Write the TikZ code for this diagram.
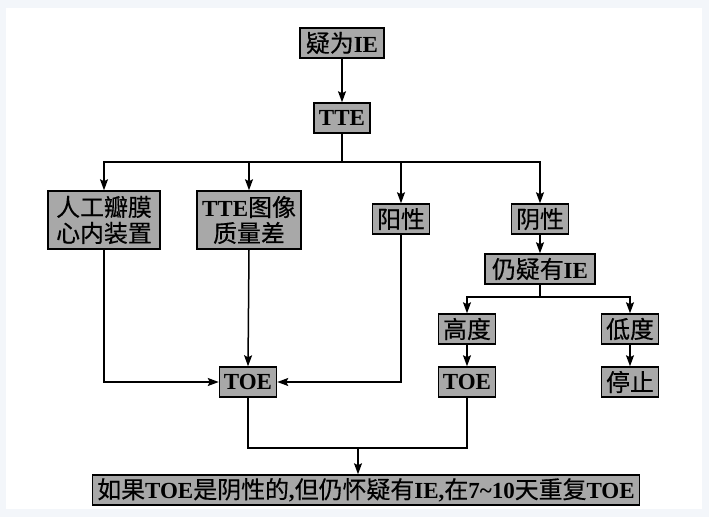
\documentclass[tikz,border=0pt]{standalone}
\usepackage{fontspec}
\setmainfont{Liberation Serif}[UprightFont=* Bold]
\newfontfamily\cjk{Noto Sans CJK SC}[Scale=1.04,FakeBold=0.4]
\newcommand{\zh}[1]{{\cjk #1}}
\usetikzlibrary{arrows.meta}
\definecolor{boxGray}{RGB}{168,168,168}
\definecolor{frameBlue}{RGB}{243,246,250}

\begin{document}
\begin{tikzpicture}
[x=1pt,y=-1pt,
grayBox/.style={draw=black,fill=boxGray,line width=1.5pt,inner sep=0pt,
minimum height=30pt,font=\fontsize{23}{26}\selectfont,align=center},
flowArrow/.style={-{Stealth[length=11pt,width=8pt,inset=2pt]},line width=1.5pt},
flowLine/.style={line width=1.5pt}]
  \fill[frameBlue] (0,0) rectangle (709,517);
  \fill[white] (6,8) rectangle (702,509);
  \useasboundingbox (0,0) rectangle (709,517);
  \node[grayBox,minimum width=84pt] (suspectIE) at (342,43) {\zh{疑为}IE};
  \node[grayBox,minimum width=56pt] (tteBox) at (342,118) {TTE};
  \node[grayBox,minimum width=112pt,minimum height=58pt] (valveBox) at (104,220) {\zh{人工瓣膜}\\\zh{心内装置}};
  \node[grayBox,minimum width=104pt,minimum height=58pt] (poorBox) at (249,220) {TTE\zh{图像}\\\zh{质量差}};
  \node[grayBox,minimum width=57pt] (posBox) at (401,219) {\zh{阳性}};
  \node[grayBox,minimum width=57pt] (negBox) at (540,219) {\zh{阴性}};
  \node[grayBox,minimum width=110pt] (stillIE) at (540,269) {\zh{仍疑有}IE};
  \node[grayBox,minimum width=57pt] (highBox) at (467,329) {\zh{高度}};
  \node[grayBox,minimum width=57pt] (lowBox) at (630,329) {\zh{低度}};
  \node[grayBox,minimum width=57pt] (toeLeft) at (248,382) {TOE};
  \node[grayBox,minimum width=57pt] (toeRight) at (467,382) {TOE};
  \node[grayBox,minimum width=57pt] (stopBox) at (630,382) {\zh{停止}};
  \node[grayBox,minimum width=547pt] (repeatBox) at (366,490)
    {\zh{如果}TOE\zh{是阴性的},\zh{但仍怀疑有}IE,\zh{在}7\textasciitilde10\zh{天重复}TOE};
  \coordinate (topBus) at (342,162);
  \coordinate (midBus) at (540,297);
  \coordinate (joinToe) at (358,448);
  % top part
  \draw[flowArrow] (suspectIE) -- (tteBox);
  \draw[flowLine] (tteBox.south) -- (topBus);
  \foreach \target in {valveBox,poorBox,posBox,negBox}
    \draw[flowArrow] (topBus) -| (\target.north);
  \draw[flowArrow] (negBox) -- (stillIE);
  \draw[flowLine] (stillIE.south) -- (midBus);
  \foreach \target in {highBox,lowBox}
    \draw[flowArrow] (midBus) -| (\target.north);
  \draw[flowArrow] (highBox) -- (toeRight);
  \draw[flowArrow] (lowBox) -- (stopBox);
  % into the left TOE
  \draw[flowArrow] (valveBox.south) |- (toeLeft.west);
  \draw[flowArrow] (poorBox.south) -- (toeLeft.north);
  \draw[flowArrow] (posBox.south) |- (toeLeft.east);
  % bottom
  \draw[flowLine] (toeLeft.south) |- (joinToe -| toeRight) -- (toeRight.south);
  \draw[flowArrow] (joinToe) -- (joinToe |- repeatBox.north);
\end{tikzpicture}
\end{document}
